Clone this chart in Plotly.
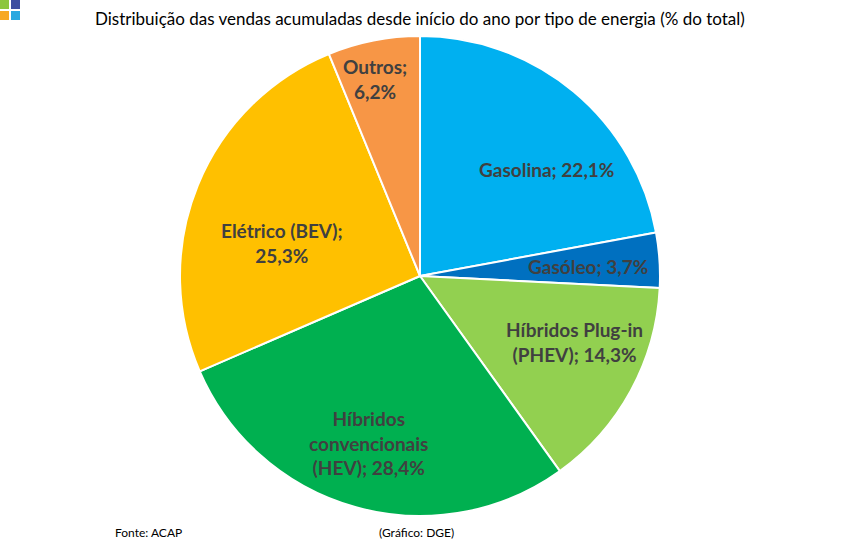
import math
import plotly.graph_objects as go

# ---- data ----
categories = ["Gasolina", "Gasóleo", "Híbridos Plug-in (PHEV)",
              "Híbridos convencionais (HEV)", "Elétrico (BEV)", "Outros"]
shares = [22.1, 3.7, 14.3, 28.4, 25.3, 6.2]
label_texts = ["Gasolina; 22,1%", "Gasóleo; 3,7%", "Híbridos Plug-in<br>(PHEV); 14,3%",
               "Híbridos<br>convencionais<br>(HEV); 28,4%", "Elétrico (BEV);<br>25,3%",
               "Outros;<br>6,2%"]
title_text = "Distribuição das vendas acumuladas desde início do ano por tipo de energia (% do total)"
source_text = "Fonte: ACAP"
credit_text = "(Gráfico: DGE)"

# ---- style ----
colors = ["#00B0F0", "#0070C0", "#92D050", "#00B050", "#FFC000", "#F79646"]
label_r = [0.69, 0.70, 0.70, 0.73, 0.59, 0.84]       # radial fraction for label
label_da = [10.0, 0.5, -5.5, 1.7, -8.7, -1.7]        # angle offset (deg) from slice mid
W, H = 841, 549
CX, CY, R = 420, 276, 240
FONT = "Lato"

fig = go.Figure(go.Pie(
    labels=categories, values=shares, sort=False, direction="clockwise", rotation=0,
    marker=dict(colors=colors, line=dict(color="white", width=2)),
    textinfo="none", hoverinfo="label+percent", showlegend=False,
    domain=dict(x=[(CX - R) / W, (CX + R) / W], y=[1 - (CY + R) / H, 1 - (CY - R) / H]),
))

annotations = []
total = sum(shares)
cum = 0.0
for i, v in enumerate(shares):
    mid = (cum + v / 2) / total * 360 + label_da[i]
    cum += v
    a = math.radians(mid)
    px = CX + label_r[i] * R * math.sin(a)
    py = CY - label_r[i] * R * math.cos(a)
    annotations.append(dict(
        x=px / W, y=1 - py / H, xref="paper", yref="paper", text="<b>" + label_texts[i] + "</b>",
        showarrow=False, xanchor="center", yanchor="middle", align="center",
        font=dict(family=FONT, size=19, color="#404040")))

annotations.append(dict(x=420 / W, y=1 - 19 / H, xref="paper", yref="paper", text=title_text,
                        showarrow=False, xanchor="center", yanchor="middle",
                        font=dict(family=FONT, size=17, color="#000000")))
annotations.append(dict(x=113 / W, y=1 - 532 / H, xref="paper", yref="paper", text=source_text,
                        showarrow=False, xanchor="left", yanchor="middle",
                        font=dict(family=FONT, size=12, color="#000000")))
annotations.append(dict(x=377 / W, y=1 - 532 / H, xref="paper", yref="paper", text=credit_text,
                        showarrow=False, xanchor="left", yanchor="middle",
                        font=dict(family=FONT, size=12, color="#000000")))

logo = [(0, 0, "#8DC63F"), (11, 0, "#3F4FA0"), (0, 11, "#F7A823"), (11, 11, "#29A8E0")]
shapes = [dict(type="rect", xref="paper", yref="paper", x0=x / W, x1=(x + 9) / W,
               y0=1 - (y + 9) / H, y1=1 - y / H, fillcolor=c, line=dict(width=0))
          for x, y, c in logo]

fig.update_layout(width=W, height=H, margin=dict(l=0, r=0, t=0, b=0),
                  paper_bgcolor="white", plot_bgcolor="white",
                  annotations=annotations, shapes=shapes)
fig.write_html("out.html")
